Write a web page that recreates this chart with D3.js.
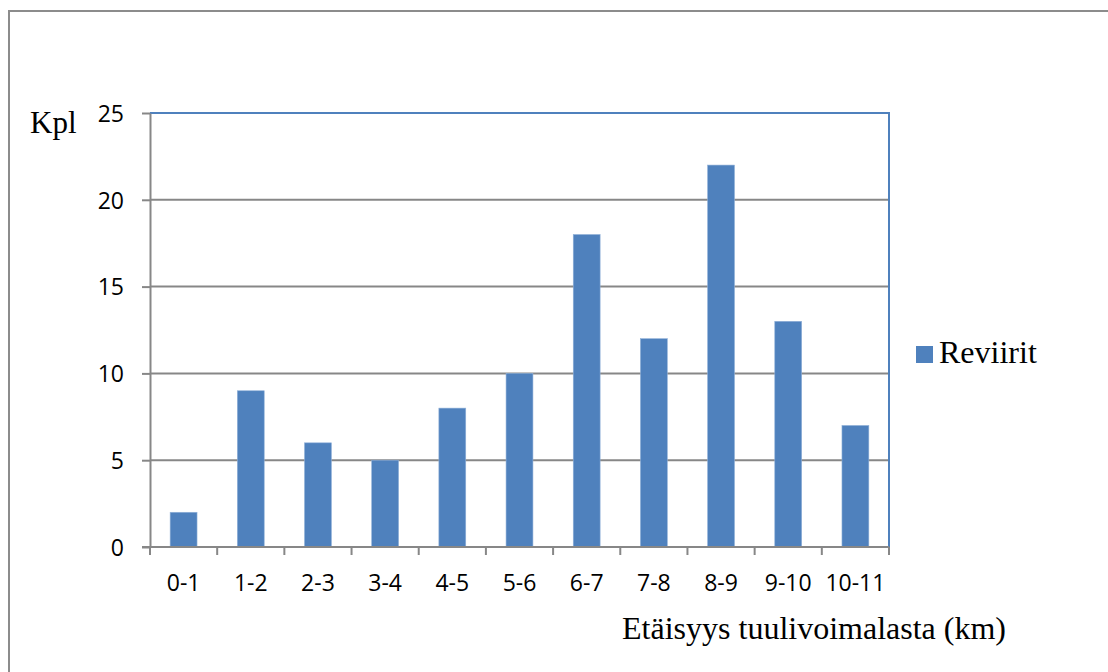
<!DOCTYPE html>
<html>
<head>
<meta charset="utf-8">
<script src="https://cdn.jsdelivr.net/npm/d3@7"></script>
<style>
  html, body { margin: 0; padding: 0; background: #fff; }
  svg { display: block; }
</style>
</head>
<body>
<svg id="chart" width="1108" height="672"></svg>
<script>
// Distance classes (km) and number of territories in each
const categories = ["0-1", "1-2", "2-3", "3-4", "4-5", "5-6", "6-7", "7-8", "8-9", "9-10", "10-11"];
const reviirit = [2, 9, 6, 5, 8, 10, 18, 12, 22, 13, 7];
const yTicks = [0, 5, 10, 15, 20, 25];
const seriesName = "Reviirit";
const yTitle = "Kpl";
const xTitle = "Etäisyys tuulivoimalasta (km)";

const svg = d3.select("#chart");
const W = 1108, H = 672;
const plot = { left: 150, top: 113, right: 889, bottom: 547 };

const BLUE = "#4F81BD";
const GRID = "#878787";
const tickFont = "'Open Sans', 'Noto Sans', sans-serif";
const serif = "'Liberation Serif', 'Times New Roman', serif";

// Outer frame
svg.append("rect")
  .attr("x", 9).attr("y", 11)
  .attr("width", W + 20).attr("height", H + 20)
  .attr("fill", "#fff").attr("stroke", "#8c8c8c").attr("stroke-width", 2);

const x = d3.scaleBand()
  .domain(categories)
  .range([plot.left, plot.right])
  .paddingInner(0.6)
  .paddingOuter(0.3);

const y = d3.scaleLinear()
  .domain([0, 25])
  .range([plot.bottom, plot.top]);

// Horizontal gridlines
svg.append("g")
  .selectAll("line")
  .data(yTicks.filter(d => d > 0 && d < 25))
  .join("line")
  .attr("x1", plot.left).attr("x2", plot.right)
  .attr("y1", d => y(d)).attr("y2", d => y(d))
  .attr("stroke", GRID).attr("stroke-width", 2);

// Plot area border (top and right)
svg.append("path")
  .attr("d", `M${plot.left},${plot.top}H${plot.right}V${plot.bottom}`)
  .attr("fill", "none").attr("stroke", BLUE).attr("stroke-width", 2);

// Bars
svg.append("g")
  .selectAll("rect")
  .data(categories.map((c, i) => ({ c, v: reviirit[i] })))
  .join("rect")
  .attr("x", d => x(d.c))
  .attr("y", d => y(d.v))
  .attr("width", x.bandwidth())
  .attr("height", d => y(0) - y(d.v))
  .attr("fill", BLUE)
  .attr("stroke", "#8fb0d8").attr("stroke-width", 0.6);

// Y axis
const yAxis = d3.axisLeft(y)
  .tickValues(yTicks)
  .tickSize(8)
  .tickPadding(18)
  .tickSizeOuter(0);
const gy = svg.append("g")
  .attr("transform", `translate(${plot.left},0)`)
  .call(yAxis);
gy.select(".domain").attr("stroke", GRID).attr("stroke-width", 2);
gy.selectAll(".tick line").attr("stroke", GRID).attr("stroke-width", 2);
gy.selectAll(".tick text")
  .attr("font-family", tickFont).attr("font-size", 23).attr("fill", "#000")
  .attr("dy", "0.36em");

// X axis: ticks sit on category boundaries
const gx = svg.append("g")
  .attr("transform", `translate(0,${plot.bottom})`);
gx.append("line")
  .attr("x1", plot.left - 8).attr("x2", plot.right)
  .attr("stroke", GRID).attr("stroke-width", 2);
const bounds = d3.range(categories.length + 1).map(i => plot.left + i * (plot.right - plot.left) / categories.length);
gx.selectAll("line.tk")
  .data(bounds)
  .join("line")
  .attr("class", "tk")
  .attr("x1", d => d).attr("x2", d => d)
  .attr("y1", 0).attr("y2", 8)
  .attr("stroke", GRID).attr("stroke-width", 2);
gx.selectAll("text")
  .data(categories)
  .join("text")
  .attr("x", d => x(d) + x.bandwidth() / 2)
  .attr("y", 44)
  .attr("text-anchor", "middle")
  .attr("font-family", tickFont).attr("font-size", 23).attr("fill", "#000")
  .text(d => d);

// Axis titles
svg.append("text")
  .attr("x", 30).attr("y", 133)
  .attr("font-family", serif).attr("font-size", 31).attr("fill", "#000")
  .text(yTitle);

svg.append("text")
  .attr("x", 1006).attr("y", 639)
  .attr("text-anchor", "end")
  .attr("font-family", serif).attr("font-size", 32).attr("fill", "#000")
  .text(xTitle);

// Legend
const lg = svg.append("g");
lg.append("rect")
  .attr("x", 916).attr("y", 346)
  .attr("width", 17).attr("height", 17)
  .attr("fill", BLUE);
lg.append("text")
  .attr("x", 939).attr("y", 363)
  .attr("font-family", serif).attr("font-size", 32).attr("fill", "#000")
  .text(seriesName);
</script>
</body>
</html>
